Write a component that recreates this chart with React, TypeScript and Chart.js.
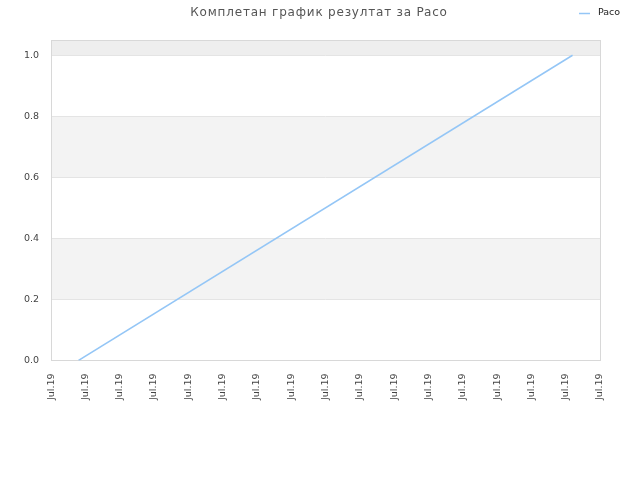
import React, { useEffect, useRef } from "react";
import { Chart, registerables } from "chart.js";

Chart.register(...registerables);

const TITLE = "Комплетан график резултат за Paco";
const SERIES_NAME = "Paco";
const X_TICK_LABEL = "Jul.19";
const X_TICK_COUNT = 17;
const pointX = [0, 1];
const pointY = [0, 1];
const X_MIN = -1 / 18;
const X_MAX = 19 / 18;
const Y_MIN = 0;
const Y_MAX = 1.05;
const Y_STEP = 0.2;

const LINE_COLOR = "#94c6f6";
const FONT = "'DejaVu Sans', sans-serif";

const bandsPlugin = {
  id: "bands",
  beforeDatasetsDraw(chart: any) {
    const { ctx, chartArea, scales } = chart;
    const y = scales.y;
    ctx.save();
    const top1 = y.getPixelForValue(1.0);
    ctx.fillStyle = "#eeeeee";
    ctx.fillRect(chartArea.left, chartArea.top, chartArea.right - chartArea.left, top1 - chartArea.top);
    const bands = [
      [0.2, 0.4],
      [0.6, 0.8],
    ];
    ctx.fillStyle = "#f3f3f3";
    for (const [a, b] of bands) {
      const pa = y.getPixelForValue(a);
      const pb = y.getPixelForValue(b);
      ctx.fillRect(chartArea.left, pb, chartArea.right - chartArea.left, pa - pb);
    }
    ctx.strokeStyle = "#e4e4e4";
    ctx.lineWidth = 1;
    for (let v = 0.2; v <= 1.0001; v += Y_STEP) {
      const p = Math.round(y.getPixelForValue(v)) + 0.5;
      ctx.beginPath();
      ctx.moveTo(chartArea.left, p);
      ctx.lineTo(chartArea.right, p);
      ctx.stroke();
    }
    ctx.strokeStyle = "#d8d8d8";
    ctx.strokeRect(
      Math.round(chartArea.left) + 0.5,
      Math.round(chartArea.top) + 0.5,
      Math.round(chartArea.right - chartArea.left),
      Math.round(chartArea.bottom - chartArea.top)
    );
    ctx.restore();
  },
};

const titleLegendPlugin = {
  id: "titleLegend",
  afterDraw(chart: any) {
    const { ctx } = chart;
    const ds = chart.data.datasets[0];
    ctx.save();
    ctx.fillStyle = "#555";
    ctx.font = "12px " + FONT;
    (ctx as any).letterSpacing = "0.8px";
    ctx.textBaseline = "middle";
    ctx.textAlign = "center";
    ctx.fillText(TITLE, 319, 12.5);
    (ctx as any).letterSpacing = "0px";
    ctx.strokeStyle = ds.borderColor;
    ctx.lineWidth = 1.5;
    ctx.beginPath();
    ctx.moveTo(579, 13.5);
    ctx.lineTo(590, 13.5);
    ctx.stroke();
    ctx.fillStyle = "#222";
    ctx.font = "9.5px " + FONT;
    ctx.textAlign = "left";
    ctx.fillText(ds.label, 598, 13);
    ctx.restore();
  },
};

export default function App() {
  const ref = useRef<HTMLCanvasElement | null>(null);
  useEffect(() => {
    document.body.style.margin = "0";
    const canvas = ref.current!;
    const chart = new Chart(canvas, {
      type: "line",
      data: {
        datasets: [
          {
            label: SERIES_NAME,
            data: pointX.map((x, i) => ({ x, y: pointY[i] })),
            borderColor: LINE_COLOR,
            backgroundColor: LINE_COLOR,
            borderWidth: 1.5,
            pointRadius: 0,
            tension: 0,
          },
        ],
      },
      options: {
        animation: false,
        responsive: false,
        devicePixelRatio: 1,
        layout: { padding: { left: 12, right: 40, top: 40, bottom: 67 } },
        plugins: {
          legend: { display: false },
          tooltip: { enabled: false },
          title: { display: false },
        },
        scales: {
          x: {
            type: "linear",
            min: X_MIN,
            max: X_MAX,
            grid: { display: false, drawTicks: false },
            border: { display: false },
            afterBuildTicks(scale: any) {
              const ticks = [];
              for (let i = 0; i < X_TICK_COUNT; i++) {
                ticks.push({ value: X_MIN + ((X_MAX - X_MIN) * i) / (X_TICK_COUNT - 1) });
              }
              scale.ticks = ticks;
            },
            ticks: {
              autoSkip: false,
              minRotation: 90,
              maxRotation: 90,
              padding: 13,
              color: "#444",
              font: { family: FONT, size: 9.5 },
              callback: () => X_TICK_LABEL,
            },
          },
          y: {
            type: "linear",
            min: Y_MIN,
            max: Y_MAX,
            grid: { display: false, drawTicks: false },
            border: { display: false },
            afterBuildTicks(scale: any) {
              const ticks = [];
              for (let v = Y_MIN; v <= 1.0001; v += Y_STEP) ticks.push({ value: v });
              scale.ticks = ticks;
            },
            ticks: {
              padding: 12,
              color: "#444",
              font: { family: FONT, size: 9.5 },
              callback: (v: any) => Number(v).toFixed(1),
            },
          },
        },
      },
      plugins: [bandsPlugin, titleLegendPlugin],
    });
    return () => chart.destroy();
  }, []);
  return (
    <div style={{ position: "absolute", left: 0, top: 0, width: 640, height: 480 }}>
      <canvas ref={ref} width={640} height={480} style={{ width: 640, height: 480 }} />
    </div>
  );
}
